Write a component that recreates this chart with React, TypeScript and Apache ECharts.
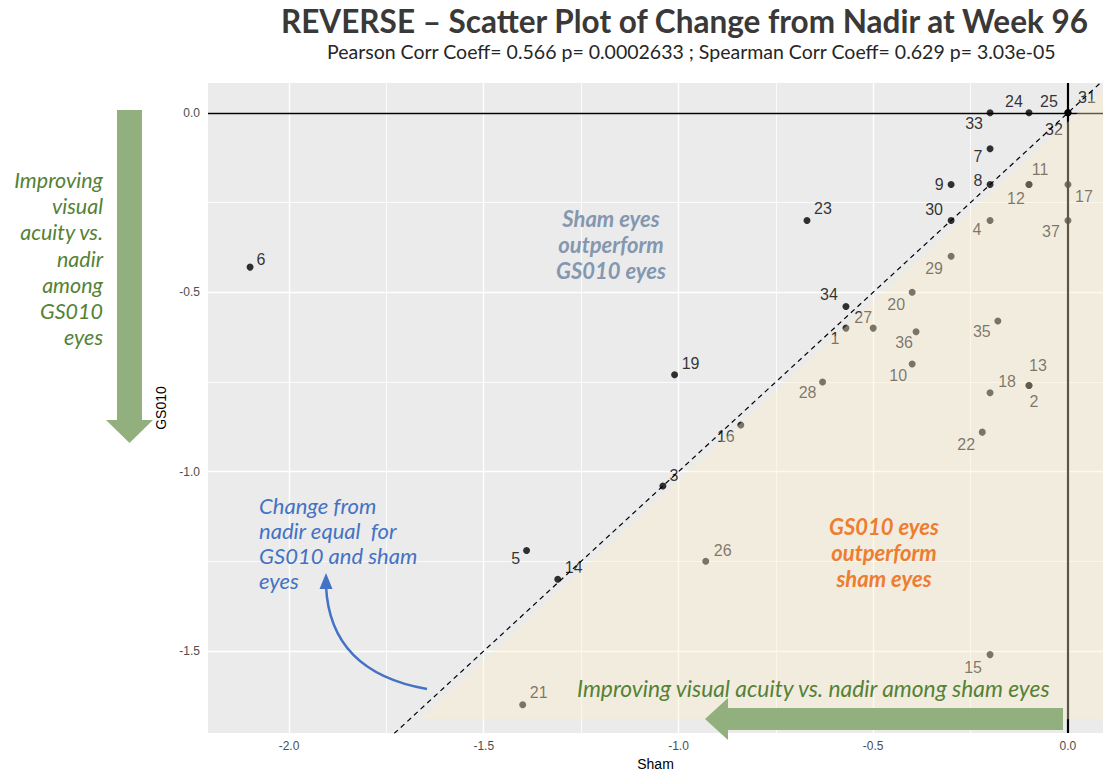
import React, { useEffect, useRef } from "react";
import * as echarts from "echarts";

// ---- Data (id order 1..37) ----
const POINT_IDS = [
  "1", "2", "3", "4", "5", "6", "7", "8", "9", "10",
  "11", "12", "13", "14", "15", "16", "17", "18", "19", "20",
  "21", "22", "23", "24", "25", "26", "27", "28", "29", "30",
  "31", "32", "33", "34", "35", "36", "37",
];
const SHAM = [
  -0.57, -0.1, -1.04, -0.2, -1.39, -2.1, -0.2, -0.2, -0.3, -0.4,
  -0.1, -0.1, -0.1, -1.31, -0.2, -0.84, 0.0, -0.2, -1.01, -0.4,
  -1.4, -0.22, -0.67, -0.1, 0.0, -0.93, -0.5, -0.63, -0.3, -0.3,
  0.0, 0.0, -0.2, -0.57, -0.18, -0.39, 0.0,
];
const GS010 = [
  -0.6, -0.76, -1.04, -0.3, -1.22, -0.43, -0.1, -0.2, -0.2, -0.7,
  -0.2, -0.2, -0.76, -1.3, -1.51, -0.87, -0.2, -0.78, -0.73, -0.5,
  -1.65, -0.89, -0.3, 0.0, 0.0, -1.25, -0.6, -0.75, -0.4, -0.3,
  0.0, 0.0, 0.0, -0.54, -0.58, -0.61, -0.3,
];
// label displacement (px) for each point, same order
const LABEL_OFFSETS: number[][] = [
  [-11, 10], [5, 16], [11, -10], [-13, 9], [-11, 8], [11, -8], [-12, 8], [-12, -4], [-12, 0], [-14, 12],
  [11, -15], [-13, 14], [9, -20], [16, -12], [-17, 13], [-15, 12], [16, 12], [17, -11], [16, -11], [-16, 12],
  [16, -12], [-16, 12], [16, -12], [-15, -11], [-19, -11], [17, -11], [-10, -11], [-15, 11], [-17, 12], [-17, -11],
  [19, -15], [-14, 17], [-16, 11], [-17, -12], [-16, 11], [-12, 11], [-17, 11],
];

const X_TICKS = [-2.0, -1.5, -1.0, -0.5, 0.0];
const Y_TICKS = [-1.5, -1.0, -0.5, 0.0];
const X_MINOR = [-1.75, -1.25, -0.75, -0.25];
const Y_MINOR = [-1.25, -0.75, -0.25];
const X_RANGE = [-2.208, 0.09];
const Y_RANGE = [-1.7285, 0.0831];
const DIAGONAL = [[-1.9, -1.9], [0.2, 0.2]];
const OVERLAY_REGION = [[-1.665, -1.69], [0.09, 0.065], [0.09, -1.69]];

const TITLE = "REVERSE \u2013 Scatter Plot of Change from Nadir at Week 96";
const SUBTITLE =
  "Pearson Corr Coeff= 0.566 p= 0.0002633 ; Spearman Corr Coeff= 0.629 p= 3.03e-05";

const GREEN_ARROW = "#91B07D";
const GREEN_TEXT = "#548235";
const SANS = "Liberation Sans, Arial, sans-serif";
const ANNOT = "Lato, 'Open Sans', sans-serif";

function buildOption(): any {
  const scatterData = POINT_IDS.map((id, i) => ({
    name: id,
    value: [SHAM[i], GS010[i]],
    label: { offset: LABEL_OFFSETS[i] },
  }));

  const gridLines = [
    ...X_TICKS.map((v) => ({ xAxis: v, lineStyle: { color: "#fff", width: 1.4, type: "solid" } })),
    ...X_MINOR.map((v) => ({ xAxis: v, lineStyle: { color: "#fff", width: 0.8, type: "solid" } })),
    ...Y_TICKS.map((v) => ({ yAxis: v, lineStyle: { color: "#fff", width: 1.4, type: "solid" } })),
    ...Y_MINOR.map((v) => ({ yAxis: v, lineStyle: { color: "#fff", width: 0.8, type: "solid" } })),
  ];

  return {
    animation: false,
    grid: {
      left: 208,
      right: 0,
      top: 83,
      bottom: 39,
      show: true,
      backgroundColor: "#EBEBEB",
      borderWidth: 0,
    },
    xAxis: {
      type: "value",
      min: X_RANGE[0],
      max: X_RANGE[1],
      name: "Sham",
      nameLocation: "middle",
      nameGap: 24,
      nameTextStyle: { color: "#000", fontSize: 14, fontFamily: SANS },
      axisLine: { show: false },
      splitLine: { show: false },
      axisTick: {
        show: true,
        customValues: X_TICKS,
        length: 4,
        lineStyle: { color: "#333", width: 1 },
      },
      axisLabel: {
        customValues: X_TICKS,
        formatter: (v: number) => v.toFixed(1),
        color: "#4D4D4D",
        fontSize: 12,
        fontFamily: SANS,
        margin: 7,
      },
    },
    yAxis: {
      type: "value",
      min: Y_RANGE[0],
      max: Y_RANGE[1],
      name: "GS010",
      nameLocation: "middle",
      nameGap: 38,
      nameTextStyle: { color: "#000", fontSize: 14, fontFamily: SANS },
      axisLine: { show: false },
      splitLine: { show: false },
      axisTick: {
        show: true,
        customValues: Y_TICKS,
        length: 4,
        lineStyle: { color: "#333", width: 1 },
      },
      axisLabel: {
        customValues: Y_TICKS,
        formatter: (v: number) => v.toFixed(1),
        color: "#4D4D4D",
        fontSize: 12,
        fontFamily: SANS,
        margin: 8,
      },
    },
    series: [
      {
        type: "scatter",
        name: "grid",
        z: 1,
        data: [],
        silent: true,
        markLine: {
          z: 1,
          silent: true,
          symbol: ["none", "none"],
          label: { show: false },
          animation: false,
          data: gridLines,
        },
      },
      {
        type: "line",
        name: "zero",
        z: 2,
        data: [],
        silent: true,
        markLine: {
          z: 2,
          silent: true,
          symbol: ["none", "none"],
          label: { show: false },
          animation: false,
          data: [
            { yAxis: 0, lineStyle: { color: "#000", width: 1.4, type: "solid" } },
            { xAxis: 0, lineStyle: { color: "#000", width: 2.2, type: "solid" } },
          ],
        },
      },
      {
        type: "line",
        name: "identity",
        z: 3,
        data: DIAGONAL,
        clip: true,
        showSymbol: false,
        symbol: "none",
        silent: true,
        lineStyle: { color: "#000", width: 1.2, type: [5, 4] },
      },
      {
        type: "scatter",
        name: "eyes",
        z: 4,
        symbolSize: 7,
        itemStyle: { color: "#000" },
        data: scatterData,
        label: {
          show: true,
          position: "inside",
          formatter: "{b}",
          color: "#000",
          fontSize: 16,
          fontFamily: SANS,
        },
      },
      {
        type: "custom",
        name: "overlay",
        z: 6,
        silent: true,
        data: [[0, 0]],
        renderItem: (params: any, api: any) => {
          const pts = OVERLAY_REGION.map((p) => api.coord(p));
          return {
            type: "polygon",
            shape: { points: pts },
            style: { fill: "rgba(255, 238, 203, 0.36)", stroke: "none" },
          };
        },
      },
    ],
    graphic: [
      {
        type: "text",
        x: 281,
        y: 21,
        z: 100,
        style: {
          text: TITLE,
          fontFamily: "Lato, sans-serif",
          fontWeight: "bold",
          fontSize: 31.5,
          fill: "#3B3838",
          align: "left",
          verticalAlign: "middle",
        },
      },
      {
        type: "text",
        x: 327,
        y: 51,
        z: 100,
        style: {
          text: SUBTITLE,
          fontFamily: "Lato, sans-serif",
          fontSize: 19.5,
          fill: "#262626",
          align: "left",
          verticalAlign: "middle",
        },
      },
      // left down arrow
      {
        type: "rect",
        z: 100,
        shape: { x: 117, y: 110, width: 25, height: 310 },
        style: { fill: GREEN_ARROW },
      },
      {
        type: "polygon",
        z: 100,
        shape: { points: [[106, 420], [153, 420], [129.5, 443]] },
        style: { fill: GREEN_ARROW },
      },
      {
        type: "text",
        x: 103,
        y: 258.5,
        z: 100,
        style: {
          text: "Improving\nvisual\nacuity vs.\nnadir\namong\nGS010\neyes",
          fontFamily: ANNOT,
          fontStyle: "italic",
          fontSize: 21.5,
          lineHeight: 26.2,
          fill: GREEN_TEXT,
          align: "right",
          verticalAlign: "middle",
        },
      },
      // bottom left-pointing arrow
      {
        type: "rect",
        z: 100,
        shape: { x: 728, y: 708, width: 335, height: 22 },
        style: { fill: GREEN_ARROW },
      },
      {
        type: "polygon",
        z: 100,
        shape: { points: [[728, 698], [728, 740], [705, 719]] },
        style: { fill: GREEN_ARROW },
      },
      {
        type: "text",
        x: 577,
        y: 688,
        z: 100,
        style: {
          text: "Improving visual acuity vs. nadir among sham eyes",
          fontFamily: ANNOT,
          fontStyle: "italic",
          fontSize: 22.8,
          fill: GREEN_TEXT,
          align: "left",
          verticalAlign: "middle",
        },
      },
      {
        type: "text",
        x: 611,
        y: 244,
        z: 100,
        style: {
          text: "Sham eyes\noutperform\nGS010 eyes",
          fontFamily: ANNOT,
          fontStyle: "italic",
          fontWeight: "bold",
          fontSize: 22,
          lineHeight: 26,
          fill: "#8497B0",
          align: "center",
          verticalAlign: "middle",
        },
      },
      {
        type: "text",
        x: 884,
        y: 552,
        z: 100,
        style: {
          text: "GS010 eyes\noutperform\nsham eyes",
          fontFamily: ANNOT,
          fontStyle: "italic",
          fontWeight: "bold",
          fontSize: 22,
          lineHeight: 26,
          fill: "#ED7D31",
          align: "center",
          verticalAlign: "middle",
        },
      },
      {
        type: "text",
        x: 259,
        y: 543,
        z: 100,
        style: {
          text: "Change from\nnadir equal  for\nGS010 and sham\neyes",
          fontFamily: ANNOT,
          fontStyle: "italic",
          fontSize: 22,
          lineHeight: 25.3,
          fill: "#4472C4",
          align: "left",
          verticalAlign: "middle",
        },
      },
      {
        type: "bezierCurve",
        z: 100,
        shape: { x1: 427, y1: 689, x2: 326, y2: 586, cpx1: 330, cpy1: 672 },
        style: { stroke: "#4472C4", lineWidth: 2.5, fill: "none" },
      },
      {
        type: "polygon",
        z: 100,
        shape: { points: [[326, 573], [319.5, 589], [332.5, 589]] },
        style: { fill: "#4472C4" },
      },
    ],
  };
}

export default function App() {
  const ref = useRef<HTMLDivElement>(null);
  useEffect(() => {
    if (!ref.current) return;
    const chart = echarts.init(ref.current, null, { renderer: "svg" });
    chart.setOption(buildOption());
    return () => {
      chart.dispose();
    };
  }, []);
  return (
    <div
      ref={ref}
      style={{ position: "absolute", left: 0, top: 0, width: 1103, height: 776, background: "#fff" }}
    />
  );
}
